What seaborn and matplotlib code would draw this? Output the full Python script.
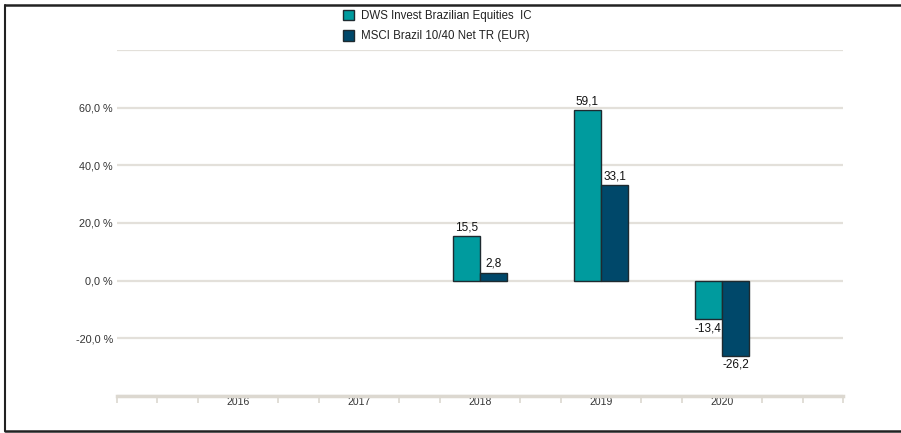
import matplotlib
matplotlib.use("Agg")
import matplotlib.pyplot as plt
from matplotlib.patches import Patch
from matplotlib.lines import Line2D
import seaborn as sns
import pandas as pd
import numpy as np

years = ["2016", "2017", "2018", "2019", "2020"]
series_names = ["DWS Invest Brazilian Equities  IC", "MSCI Brazil 10/40 Net TR (EUR)"]
dws = [None, None, 15.5, 59.1, -13.4]
msci = [None, None, 2.8, 33.1, -26.2]
y_ticks = [-20, 0, 20, 40, 60]
colors = ["#009B9E", "#00486A"]

rows = []
for name, vals in zip(series_names, [dws, msci]):
    for y, v in zip(years, vals):
        if v is not None:
            rows.append({"year": y, "series": name, "value": v})
df = pd.DataFrame(rows)

sns.set_theme(style="white")
plt.rcParams["font.family"] = ["Liberation Sans", "DejaVu Sans"]

fig = plt.figure(figsize=(9.01, 4.33), dpi=100)
ax = fig.add_axes([117/901, 1-396/433, (843-117)/901, (396-50)/433])

sns.barplot(data=df, x="year", y="value", hue="series", order=years,
            hue_order=series_names, palette=colors, saturation=1, width=0.45,
            edgecolor="#1e2a30", linewidth=1.0, ax=ax, legend=False, errorbar=None)

for cont, vals in zip(ax.containers, [dws, msci]):
    labs = [f"{v:.1f}".replace(".", ",") for v in vals if v is not None]
    ax.bar_label(cont, labels=labs, padding=2, fontsize=8.5, color="#111111")

ax.set_xlim(-1, 5)
ax.set_ylim(-40, 80)
ax.set_yticks([-40] + y_ticks + [80])
ax.set_yticklabels([""] + [f"{t:.1f} %".replace(".", ",") for t in y_ticks] + [""])
ax.yaxis.grid(True, color="#e3e0da", linewidth=1.6)
ax.set_axisbelow(True)
ax.tick_params(axis="y", length=0, pad=3, labelsize=7.8, labelcolor="#333333")

ax.set_xticks(range(len(years)))
ax.set_xticklabels(years)
minor = [-1 + k/3 for k in range(19) if (k % 3 != 0) or k in (0, 18)]
ax.set_xticks(minor, minor=True)
ax.tick_params(axis="x", which="major", bottom=False, length=0, pad=1, labelsize=7.5, labelcolor="#333333")
ax.tick_params(axis="x", which="minor", bottom=True, length=5, width=1.2, color="#dcd8d0", direction="out")
ax.set_xlabel("")
ax.set_ylabel("")
for s in ["top", "right", "left"]:
    ax.spines[s].set_visible(False)
ax.spines["bottom"].set_color("#dcd8d0")
ax.spines["bottom"].set_linewidth(2.5)
ax.spines["bottom"].set_position(("data", -40))

handles = [Patch(facecolor=c, edgecolor="#1e2a30", linewidth=1.0) for c in colors]
fig.legend(handles, series_names, loc="upper left", bbox_to_anchor=(338/901, 1-5/433),
           frameon=False, fontsize=8.3, handlelength=1.0, handleheight=1.0,
           handletextpad=0.6, labelspacing=0.75, borderaxespad=0, labelcolor="#222222")

# figure border
fig.add_artist(Line2D([5/901, 5/901], [1-5/433, 1-431/433], transform=fig.transFigure, color="#222222", lw=1.5))
fig.add_artist(Line2D([5/901, 1], [1-5/433, 1-5/433], transform=fig.transFigure, color="#222222", lw=1.8))
fig.add_artist(Line2D([5/901, 1], [1-431/433, 1-431/433], transform=fig.transFigure, color="#222222", lw=1.8))

fig.savefig("out.png", dpi=100)
